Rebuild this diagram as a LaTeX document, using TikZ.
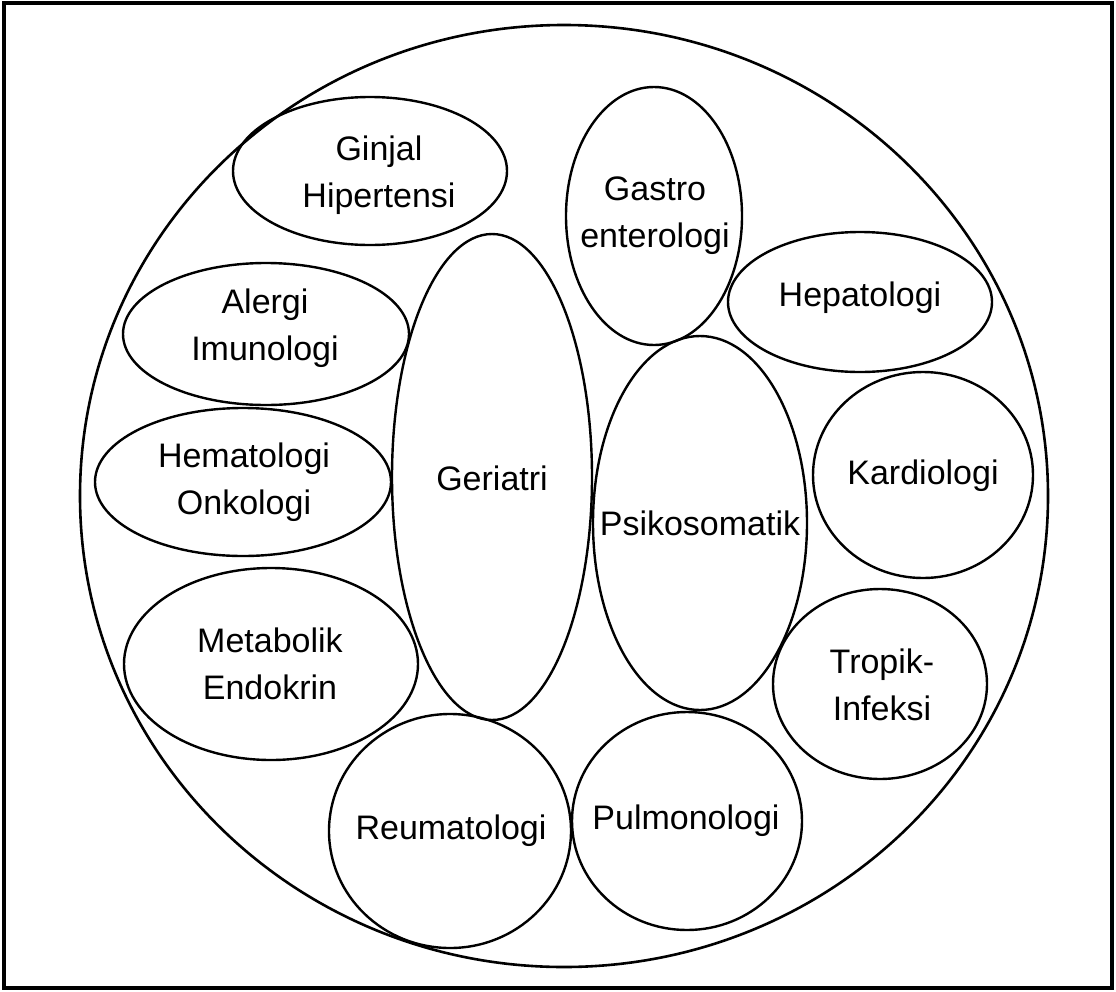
\documentclass[tikz,border=0pt]{standalone}
\usepackage{fontspec}
\setmainfont{Liberation Sans}
\usetikzlibrary{shapes.geometric}
\tikzset{
  ell/.style={draw, ellipse, line width=2.4pt, inner sep=0pt},
  lbl/.style={inner sep=0pt, align=center, font=\fontsize{34}{47}\selectfont}
}
\newcommand{\ellnode}[5]{\node[ell, minimum width=#4pt, minimum height=#5pt] (#1) at (#2,#3) {};}
\begin{document}
\begin{tikzpicture}[x=1pt,y=-1pt]
\useasboundingbox (0,0) rectangle (1116,991);
\draw[line width=3.2pt] (4,3) rectangle (1112,988);
% outer
\node[ell, line width=2.6pt, minimum width=968pt, minimum height=942pt] (big) at (564,496) {};
% ellipses (name, cx, cy, width, height)
\ellnode{ginjal}{370}{171}{274}{148}
\ellnode{gastro}{654}{216}{176}{258}
\ellnode{hepato}{860}{302}{264}{140}
\ellnode{alergi}{266}{334}{286}{142}
\ellnode{hemato}{243}{482}{296}{148}
\ellnode{geriatri}{492}{477}{200}{486}
\ellnode{psiko}{700}{523}{214}{374}
\ellnode{kardio}{923}{475}{220}{206}
\ellnode{metab}{271}{664}{294}{192}
\ellnode{tropik}{880}{684}{214}{190}
\ellnode{reuma}{450}{831}{242}{234}
\ellnode{pulmo}{687}{821}{230}{218}
% labels
\node[lbl] (tginjal) at (379,175) {Ginjal\\Hipertensi};
\node[lbl] (tgastro) at (655,216) {Gastro\\enterologi};
\node[lbl] (thepato) at (860,298) {Hepatologi};
\node[lbl] (talergi) at (265,328) {Alergi\\Imunologi};
\node[lbl] (themato) at (244,482) {Hematologi\\Onkologi};
\node[lbl] (tgeriatri) at (492,478) {Geriatri};
\node[lbl] (tpsiko) at (700,523) {Psikosomatik};
\node[lbl] (tkardio) at (923,476) {Kardiologi};
\node[lbl] (tmetab) at (270,664) {Metabolik\\Endokrin};
\node[lbl] (ttropik) at (882,685) {Tropik-\\Infeksi};
\node[lbl] (treuma) at (451,831) {Reumatologi};
\node[lbl] (tpulmo) at (686,821) {Pulmonologi};
\end{tikzpicture}
\end{document}
